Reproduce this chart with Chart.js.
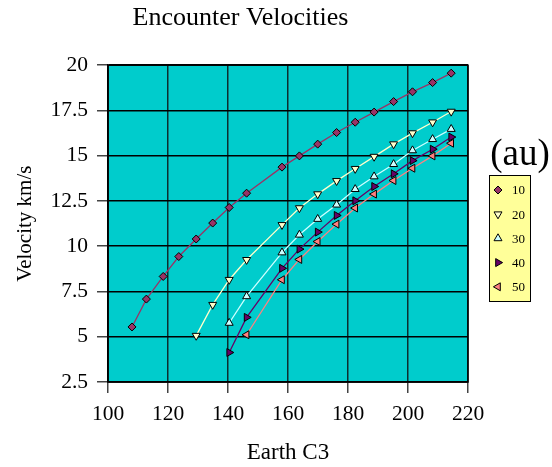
<!DOCTYPE html>
<html>
<head>
<meta charset="utf-8">
<title>Encounter Velocities</title>
<script src="https://cdn.jsdelivr.net/npm/chart.js@4.4.1/dist/chart.umd.min.js"></script>
<style>
  html, body { margin: 0; padding: 0; background: #fff; }
</style>
</head>
<body>
<canvas id="chart" width="552" height="467"></canvas>
<script>
// distance from sun (au) for each curve
const auLabels = ['10', '20', '30', '40', '50'];

// Earth C3 (x) and encounter velocity km/s (y)
const c3_10 = [108.0, 112.8, 118.4, 123.6, 129.4, 134.9, 140.4, 146.2, 158.0, 163.8, 169.9, 176.2, 182.4, 188.7, 195.2, 201.5, 208.2, 214.4];
const vel_10 = [5.54, 7.08, 8.33, 9.43, 10.40, 11.28, 12.14, 12.93, 14.37, 14.99, 15.64, 16.28, 16.85, 17.41, 17.99, 18.53, 19.04, 19.56];

const c3_20 = [129.4, 134.9, 140.4, 146.2, 158.0, 163.8, 169.9, 176.2, 182.4, 188.7, 195.2, 201.5, 208.2, 214.4];
const vel_20 = [5.06, 6.77, 8.15, 9.25, 11.18, 12.11, 12.88, 13.61, 14.28, 14.95, 15.64, 16.25, 16.85, 17.44];

const c3_30 = [140.4, 146.2, 158.0, 163.8, 169.9, 176.2, 182.4, 188.7, 195.2, 201.5, 208.2, 214.4];
const vel_30 = [5.76, 7.23, 9.65, 10.63, 11.50, 12.29, 13.15, 13.85, 14.53, 15.29, 15.91, 16.47];

const c3_40 = [140.4, 146.2, 158.0, 163.8, 169.9, 176.2, 182.4, 188.7, 195.2, 201.5, 208.2, 214.4];
const vel_40 = [4.13, 6.07, 8.78, 9.84, 10.78, 11.70, 12.51, 13.30, 14.00, 14.73, 15.36, 16.03];

const c3_50 = [146.2, 158.0, 163.8, 169.9, 176.2, 182.4, 188.7, 195.2, 201.5, 208.2, 214.4];
const vel_50 = [5.11, 8.15, 9.27, 10.26, 11.22, 12.11, 12.88, 13.63, 14.31, 14.99, 15.69];

// axis ranges / tick steps
const xMin = 100, xMax = 220, xStep = 20;
const yMin = 2.5, yMax = 20, yStep = 2.5;

const SERIF = '"Liberation Serif", "Times New Roman", serif';

const styles = [
  { line: '#993366', fill: '#993366', shape: 'rectRot', rot: 0, r: 4 },
  { line: '#FFFFCC', fill: '#FFFFCC', shape: 'triangle', rot: 180, r: 4.6 },
  { line: '#CCFFFF', fill: '#CCFFFF', shape: 'triangle', rot: 0, r: 4.6 },
  { line: '#660066', fill: '#660066', shape: 'triangle', rot: 90, r: 4.6 },
  { line: '#FF8080', fill: '#FF8080', shape: 'triangle', rot: 270, r: 4.6 }
];

const xs = [c3_10, c3_20, c3_30, c3_40, c3_50];
const ys = [vel_10, vel_20, vel_30, vel_40, vel_50];

const datasets = auLabels.map((lbl, i) => ({
  label: lbl,
  data: xs[i].map((x, j) => ({ x, y: ys[i][j] })),
  borderColor: styles[i].line,
  borderWidth: 1.3,
  backgroundColor: styles[i].fill,
  pointStyle: styles[i].shape,
  pointRotation: styles[i].rot,
  pointRadius: styles[i].r,
  pointBackgroundColor: styles[i].fill,
  pointBorderColor: '#000',
  pointBorderWidth: 1,
  tension: 0,
  fill: false
}));

const plotFrame = {
  id: 'plotFrame',
  beforeDraw(chart) {
    const { ctx, chartArea: a } = chart;
    ctx.save();
    ctx.fillStyle = '#00CCCC';
    ctx.fillRect(a.left, a.top, a.right - a.left, a.bottom - a.top);
    ctx.restore();
  },
  beforeDatasetsDraw(chart) {
    const { ctx, chartArea: a } = chart;
    ctx.save();
    ctx.strokeStyle = '#000';
    ctx.lineWidth = 1.5;
    ctx.strokeRect(a.left, a.top, a.right - a.left, a.bottom - a.top);
    ctx.restore();
  },
  afterDraw(chart) {
    // yellow legend box with "(au)" heading
    const { ctx, chartArea: a } = chart;
    const left = a.right + 21, top = 175, w = 42, h = 127;
    ctx.save();
    ctx.fillStyle = '#000';
    ctx.font = '37px ' + SERIF;
    ctx.textAlign = 'center';
    ctx.textBaseline = 'alphabetic';
    ctx.fillText('(au)', left + 31, 165);

    ctx.fillStyle = '#FFFF99';
    ctx.fillRect(left, top, w, h);
    ctx.strokeStyle = '#000';
    ctx.lineWidth = 1;
    ctx.strokeRect(left + 0.5, top + 0.5, w - 1, h - 1);

    ctx.font = '13px ' + SERIF;
    ctx.textAlign = 'left';
    ctx.textBaseline = 'middle';
    chart.data.datasets.forEach((ds, i) => {
      const y = top + 15 + i * 24.2;
      ctx.fillStyle = ds.pointBackgroundColor;
      ctx.strokeStyle = '#000';
      ctx.lineWidth = 1;
      Chart.helpers.drawPoint(ctx, { pointStyle: ds.pointStyle, rotation: ds.pointRotation, radius: ds.pointRadius, borderWidth: 1 }, left + 9, y);
      ctx.fillStyle = '#000';
      ctx.fillText(ds.label, left + 23, y + 1);
    });
    ctx.restore();
  }
};

new Chart(document.getElementById('chart'), {
  type: 'line',
  data: { datasets },
  plugins: [plotFrame],
  options: {
    responsive: false,
    animation: false,
    layout: { padding: { left: 13, right: 84, top: 0, bottom: 0 } },
    plugins: {
      legend: { display: false },
      tooltip: { enabled: false },
      title: {
        display: true,
        text: 'Encounter Velocities',
        color: '#000',
        font: { family: SERIF, size: 26, weight: 'normal' },
        padding: { top: 3, bottom: 31 }
      }
    },
    scales: {
      x: {
        type: 'linear',
        min: xMin, max: xMax,
        afterFit(scale) { scale.height = 85; },
        ticks: { stepSize: xStep, color: '#000', padding: 8.5, font: { family: SERIF, size: 21.5 } },
        grid: { color: '#0c2e2e', lineWidth: 1.5, tickLength: 11, tickColor: '#444' },
        border: { color: '#000', width: 1.5 },
        title: {
          display: true, text: 'Earth C3', color: '#000',
          font: { family: SERIF, size: 23 }, padding: { top: 0, bottom: 0 }
        }
      },
      y: {
        min: yMin, max: yMax,
        afterFit(scale) { scale.width = 95; },
        ticks: { stepSize: yStep, color: '#000', padding: 9, font: { family: SERIF, size: 21.5 } },
        grid: { color: '#000', lineWidth: 1.5, tickLength: 11, tickColor: '#444' },
        border: { color: '#000', width: 1.5 },
        title: {
          display: true, text: 'Velocity km/s', color: '#000',
          font: { family: SERIF, size: 21 }, padding: { top: 0, bottom: 0 }
        }
      }
    }
  }
});
</script>
</body>
</html>
